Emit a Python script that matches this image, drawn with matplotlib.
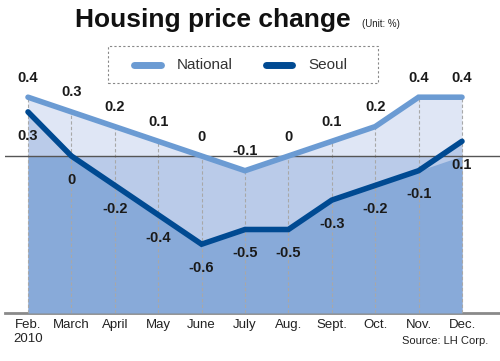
import matplotlib
matplotlib.use("Agg")
import matplotlib.pyplot as plt
import numpy as np
from matplotlib.lines import Line2D
from matplotlib.patches import Rectangle

months = ["Feb.\n2010", "March", "April", "May", "June", "July", "Aug.", "Sept.", "Oct.", "Nov.", "Dec."]
national = [0.4, 0.3, 0.2, 0.1, 0.0, -0.1, 0.0, 0.1, 0.2, 0.4, 0.4]
seoul = [0.3, 0.0, -0.2, -0.4, -0.6, -0.5, -0.5, -0.3, -0.2, -0.1, 0.1]
nat_labels = ["0.4", "0.3", "0.2", "0.1", "0", "-0.1", "0", "0.1", "0.2", "0.4", "0.4"]
seo_labels = ["0.3", "0", "-0.2", "-0.4", "-0.6", "-0.5", "-0.5", "-0.3", "-0.2", "-0.1", "0.1"]
series_names = ["National", "Seoul"]

plt.rcParams['font.family'] = ['Liberation Sans', 'DejaVu Sans']

W, H = 500, 361
fig = plt.figure(figsize=(W / 100, H / 100), dpi=100)

def fx(px):
    return px / W

def fy(py):
    return 1 - py / H

# axes placement in pixels
ax_left, ax_right = 5, 500
ax_top, ax_bottom = 30, 313
ax = fig.add_axes([fx(ax_left), fy(ax_bottom), (ax_right - ax_left) / W, (ax_bottom - ax_top) / H])

x0, dx = 28, 43.4
zero_y, ppu = 156, 147.0
ax.set_xlim((ax_left - x0) / dx, (ax_right - x0) / dx)
ymin = (zero_y - ax_bottom) / ppu
ymax = (zero_y - ax_top) / ppu
ax.set_ylim(ymin, ymax)

x = np.arange(len(months))
nat = np.array(national)
seo = np.array(seoul)

light = "#dfe6f5"
medium = "#bacbe9"
dark = "#88aad9"
nat_col = "#6b9bd3"
seo_col = "#004a92"

ax.fill_between(x, ymin, nat, color=light, lw=0, zorder=1)
ax.fill_between(x, ymin, np.minimum(nat, 0), color=medium, lw=0, zorder=2)
ax.fill_between(x, ymin, seo, color=medium, lw=0, zorder=2)
ax.fill_between(x, ymin, np.minimum(seo, 0), color=dark, lw=0, zorder=3)

ax.vlines(x, ymin, nat, colors="#a8a8a8", linestyles=(0, (3, 2)), lw=0.8, zorder=4)
ax.axhline(0, color="#555555", lw=1.0, zorder=5)

ax.plot(x, nat, color=nat_col, lw=4, solid_capstyle="round", solid_joinstyle="miter", zorder=6)
ax.plot(x, seo, color=seo_col, lw=4, solid_capstyle="round", solid_joinstyle="miter", zorder=7)

for xi, v, t in zip(x, nat, nat_labels):
    ax.annotate(t, (xi, v), xytext=(0, 14), textcoords="offset points", ha="center", va="center",
                fontsize=10.5, fontweight="bold", color="#1a1a1a", zorder=10)
for xi, v, t in zip(x, seo, seo_labels):
    ax.annotate(t, (xi, v), xytext=(0, -17), textcoords="offset points", ha="center", va="center",
                fontsize=10.5, fontweight="bold", color="#1a1a1a", zorder=10)

for s in ["top", "right", "left"]:
    ax.spines[s].set_visible(False)
ax.spines["bottom"].set_color("#8a8a8a")
ax.spines["bottom"].set_linewidth(2)
ax.set_yticks([])
ax.set_xticks(x)
ax.set_xticklabels(months, fontsize=9.5, color="#222222", linespacing=1.3)
ax.tick_params(axis="x", length=0, pad=4)
ax.patch.set_alpha(0)

# title
fig.text(fx(213), fy(20), "Housing price change", ha="center", va="center",
         fontsize=19, fontweight="bold", color="#111111")
fig.text(fx(362), fy(27), "(Unit: %)", ha="left", va="baseline", fontsize=7, color="#222222")

# legend (drawn manually to match the dashed box)
fig.patches.append(Rectangle((fx(108), fy(83)), fx(378) - fx(108), fy(46) - fy(83),
                             transform=fig.transFigure, facecolor="white", edgecolor="#888888",
                             lw=0.8, linestyle=(0, (2, 2)), zorder=20))
for (xa, xb, xt), col, name in zip([(134, 161, 177), (266, 292, 308)], [nat_col, seo_col], series_names):
    fig.lines.append(Line2D([fx(xa), fx(xb)], [fy(65), fy(65)], transform=fig.transFigure,
                            color=col, lw=5, solid_capstyle="round", zorder=21))
    fig.text(fx(xt), fy(65), name, ha="left", va="center", fontsize=11, color="#333333", zorder=22)

fig.text(fx(488), fy(341), "Source: LH Corp.", ha="right", va="center", fontsize=8, color="#222222")

fig.savefig("out.png", dpi=100)
